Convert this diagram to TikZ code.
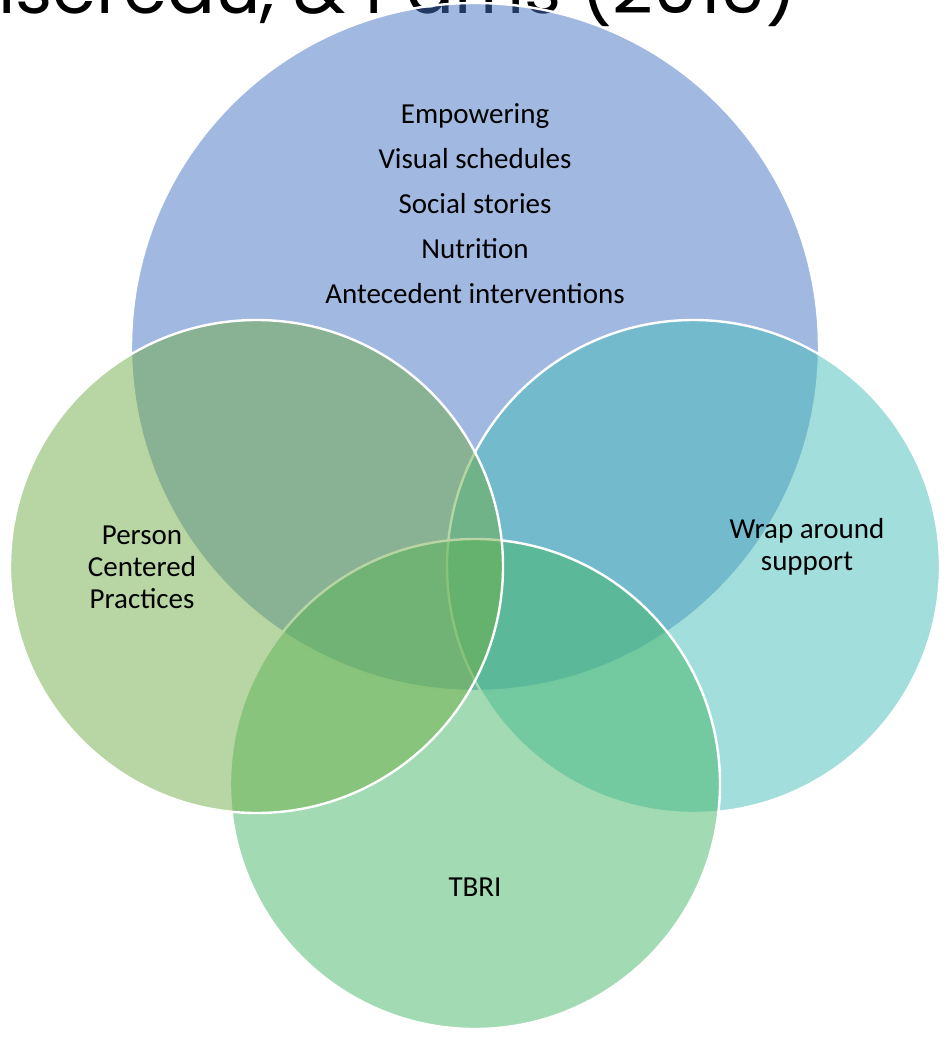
\documentclass[tikz,border=0pt]{standalone}
\usepackage{fontspec}
\setmainfont{Carlito}
\newfontfamily\titlefont{Poppins}
\definecolor{setblue}{RGB}{68,114,196}
\definecolor{setgreen}{RGB}{112,173,71}
\definecolor{setteal}{RGB}{69,189,183}
\definecolor{setmint}{RGB}{69,183,103}

\begin{document}
\begin{tikzpicture}[x=1pt,y=-1pt,line width=2.4pt,
                    font=\fontsize{29}{32}\selectfont]
  \tikzstyle{disc}=[circle,draw=white,fill opacity=0.5,inner sep=0pt,outer sep=0pt]
  \tikzstyle{lbl}=[text=black,inner sep=0pt,align=center]

  \clip (0,0) rectangle (949,1038);

  % title of the slide, cut off at the top
  \node[anchor=base east,inner sep=0pt,font=\titlefont\fontsize{71}{78}\selectfont]
      (title) at (799,14) {isereau, \& Parris (2015)};

  \node[disc,fill=setblue,minimum size=688pt]  (strategies) at (475,347) {};
  \node[disc,fill=setteal,minimum size=493pt]  (wrap)       at (693.5,566.5) {};
  \node[disc,fill=setmint,minimum size=490pt]  (tbri)       at (475,784) {};
  \node[disc,fill=setgreen,minimum size=493pt] (person)     at (256.5,566.5) {};

  \foreach \txt [count=\i] in {Empowering,Visual schedules,Social stories,Nutrition,Antecedent interventions}
    \node[lbl,anchor=base] (item\i) at (475,124+44.75*\i-44.75) {\txt};

  \node[lbl] (personlbl) at (142,567) {Person\\Centered\\Practices};
  \node[lbl] (wraplbl)   at (807,546.5) {Wrap around\\support};
  \node[lbl,anchor=base] (tbrilbl) at (475,896) {TBRI};

\end{tikzpicture}
\end{document}
